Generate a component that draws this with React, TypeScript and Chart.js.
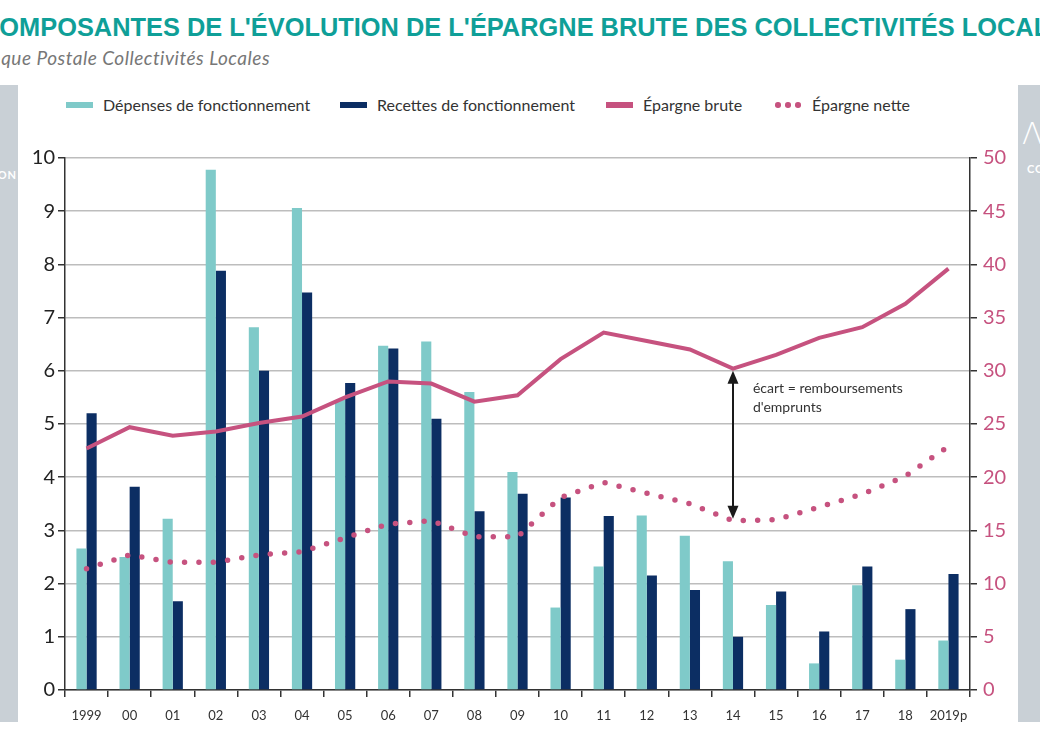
import React, { useEffect, useRef } from "react";
import { Chart, registerables } from "chart.js";

Chart.register(...registerables);

const categories = ["1999", "00", "01", "02", "03", "04", "05", "06", "07", "08", "09", "10", "11", "12", "13", "14", "15", "16", "17", "18", "2019p"];
const depenses = [2.66, 2.5, 3.22, 9.78, 6.82, 9.06, 5.45, 6.47, 6.55, 5.6, 4.1, 1.55, 2.32, 3.28, 2.9, 2.42, 1.6, 0.5, 1.97, 0.57, 0.93];
const recettes = [5.2, 3.82, 1.67, 7.88, 6.0, 7.47, 5.77, 6.42, 5.1, 3.36, 3.69, 3.62, 3.27, 2.15, 1.88, 1.0, 1.85, 1.1, 2.32, 1.52, 2.18];
const epargneBrute = [22.7, 24.7, 23.9, 24.3, 25.1, 25.7, 27.5, 29.0, 28.8, 27.1, 27.7, 31.1, 33.6, 32.8, 32.0, 30.2, 31.5, 33.1, 34.1, 36.3, 39.6];
const epargneNette = [11.4, 12.7, 12.0, 12.0, 12.7, 13.0, 14.3, 15.6, 15.9, 14.4, 14.4, 18.1, 19.5, 18.5, 17.5, 15.9, 16.0, 17.2, 18.4, 20.1, 22.9];

const leftMax = 10;
const leftStep = 1;
const rightMax = 50;
const rightStep = 5;

const annotationIndex = 15;
const annotationLines = ["écart = remboursements", "d'emprunts"];

const TITLE = "COMPOSANTES DE L'ÉVOLUTION DE L'ÉPARGNE BRUTE DES COLLECTIVITÉS LOCALES";
const SUBTITLE = "Source : La Banque Postale Collectivités Locales";

const LIGHT = "#7FCAC9";
const DARK = "#0C2E63";
const PINK = "#C6527F";
const TEAL = "#0F9F98";

const legendItems = [
  { label: "Dépenses de fonctionnement", kind: "bar", color: LIGHT, x: 66 },
  { label: "Recettes de fonctionnement", kind: "bar", color: DARK, x: 340 },
  { label: "Épargne brute", kind: "line", color: PINK, x: 606 },
  { label: "Épargne nette", kind: "dots", color: PINK, x: 775 },
];

const ecartPlugin = {
  id: "ecart",
  afterDatasetsDraw(chart: any) {
    const ctx = chart.ctx;
    const x = chart.scales.x.getPixelForValue(annotationIndex);
    const yTop = chart.scales.y1.getPixelForValue(epargneBrute[annotationIndex]) + 2;
    const yBot = chart.scales.y1.getPixelForValue(epargneNette[annotationIndex]) - 2;
    const head = 13;
    const hw = 5.5;
    ctx.save();
    ctx.strokeStyle = "#1a1a1a";
    ctx.fillStyle = "#1a1a1a";
    ctx.lineWidth = 2;
    ctx.beginPath();
    ctx.moveTo(x, yTop + head - 1);
    ctx.lineTo(x, yBot - head + 1);
    ctx.stroke();
    ctx.beginPath();
    ctx.moveTo(x, yTop);
    ctx.lineTo(x - hw, yTop + head);
    ctx.lineTo(x + hw, yTop + head);
    ctx.closePath();
    ctx.fill();
    ctx.beginPath();
    ctx.moveTo(x, yBot);
    ctx.lineTo(x - hw, yBot - head);
    ctx.lineTo(x + hw, yBot - head);
    ctx.closePath();
    ctx.fill();
    ctx.font = "14px Lato";
    ctx.fillStyle = "#333";
    ctx.textAlign = "left";
    ctx.textBaseline = "middle";
    annotationLines.forEach((t, i) => {
      ctx.fillText(t, x + 20, yTop + 18 + i * 19);
    });
    ctx.restore();
  },
};

function ChartCanvas() {
  const ref = useRef<HTMLCanvasElement>(null);
  useEffect(() => {
    if (!ref.current) return;
    const chart = new Chart(ref.current, {
      type: "bar",
      data: {
        labels: categories,
        datasets: [
          {
            type: "line",
            label: "Épargne brute",
            data: epargneBrute,
            yAxisID: "y1",
            borderColor: PINK,
            borderWidth: 4,
            pointRadius: 0,
            tension: 0,
            order: 0,
          } as any,
          {
            type: "line",
            label: "Épargne nette",
            data: epargneNette,
            yAxisID: "y1",
            borderColor: PINK,
            borderWidth: 5.5,
            borderDash: [0, 14.4],
            borderCapStyle: "round",
            pointRadius: 0,
            tension: 0,
            order: 0,
          } as any,
          {
            label: "Dépenses de fonctionnement",
            data: depenses,
            yAxisID: "y",
            backgroundColor: LIGHT,
            categoryPercentage: 0.47,
            barPercentage: 1.0,
            order: 1,
          },
          {
            label: "Recettes de fonctionnement",
            data: recettes,
            yAxisID: "y",
            backgroundColor: DARK,
            categoryPercentage: 0.47,
            barPercentage: 1.0,
            order: 1,
          },
        ],
      },
      options: {
        animation: false,
        responsive: false,
        maintainAspectRatio: false,
        layout: { padding: { top: 17, left: 0, right: 0, bottom: 0 } },
        plugins: {
          legend: { display: false },
          tooltip: { enabled: false },
          title: { display: false },
        },
        scales: {
          x: {
            offset: true,
            grid: {
              offset: true,
              drawOnChartArea: false,
              drawTicks: true,
              tickLength: 7,
              tickColor: "#333",
              lineWidth: 1.5,
            },
            border: { display: true, color: "#333", width: 1.5 },
            ticks: {
              color: "#333",
              font: { family: "Lato", size: 13 },
              padding: 11,
              maxRotation: 0,
              autoSkip: false,
            },
            afterFit(scale: any) {
              scale.height = 50;
            },
          },
          y: {
            position: "left",
            min: 0,
            max: leftMax,
            ticks: {
              stepSize: leftStep,
              color: "#222",
              font: { family: "Lato", size: 20 },
              padding: 3,
            },
            grid: {
              color: "#BDBDBD",
              lineWidth: 1.5,
              tickLength: 7,
              tickColor: "#333",
            },
            border: { display: true, color: "#333", width: 1.5 },
            afterFit(scale: any) {
              scale.width = 65;
            },
          },
          y1: {
            position: "right",
            min: 0,
            max: rightMax,
            ticks: {
              stepSize: rightStep,
              color: PINK,
              font: { family: "Lato", size: 20 },
              padding: 6,
            },
            grid: {
              drawOnChartArea: false,
              tickLength: 7,
              tickColor: "#333",
              lineWidth: 1.5,
            },
            border: { display: true, color: "#333", width: 1.5 },
            afterFit(scale: any) {
              scale.width = 70;
            },
          },
        },
      },
      plugins: [ecartPlugin],
    });
    return () => chart.destroy();
  }, []);
  return (
    <canvas
      ref={ref}
      width={1040}
      height={600}
      style={{ position: "absolute", left: 0, top: 140, width: 1040, height: 600 }}
    />
  );
}

function LegendSymbol({ kind, color }: { kind: string; color: string }) {
  if (kind === "dots") {
    return (
      <div style={{ position: "absolute", left: 0, top: -3, width: 26, height: 6 }}>
        {[0, 10, 20].map((dx) => (
          <div
            key={dx}
            style={{
              position: "absolute",
              left: dx,
              top: 0,
              width: 5.5,
              height: 5.5,
              borderRadius: "50%",
              background: color,
            }}
          />
        ))}
      </div>
    );
  }
  return (
    <div
      style={{
        position: "absolute",
        left: 0,
        top: -3,
        width: 27,
        height: 6,
        background: color,
      }}
    />
  );
}

export default function App() {
  return (
    <div
      style={{
        position: "absolute",
        left: 0,
        top: 0,
        width: 1040,
        height: 740,
        overflow: "hidden",
        background: "#fff",
        fontFamily: "Lato, sans-serif",
      }}
    >
      <div
        style={{
          position: "absolute",
          left: -19,
          top: 11,
          whiteSpace: "nowrap",
          fontFamily: "'Liberation Sans', Arial, sans-serif",
          fontWeight: 700,
          fontSize: 25.4,
          color: TEAL,
          lineHeight: "32px",
        }}
      >
        {TITLE}
      </div>
      <div
        style={{
          position: "absolute",
          left: -330,
          top: 46,
          width: 600,
          textAlign: "right",
          whiteSpace: "nowrap",
          fontFamily: "Lato, sans-serif",
          fontStyle: "italic",
          fontSize: 19,
          letterSpacing: 0.5,
          color: "#777",
          lineHeight: "24px",
        }}
      >
        {SUBTITLE}
      </div>

      <div style={{ position: "absolute", left: 0, top: 85, width: 18, height: 637, background: "#C9D0D6" }}>
        <div
          style={{
            position: "absolute",
            right: 1,
            top: 83,
            color: "#fff",
            fontSize: 11,
            fontWeight: 700,
            letterSpacing: 1,
            fontFamily: "Lato, sans-serif",
          }}
        >
          ON
        </div>
      </div>
      <div style={{ position: "absolute", left: 1018, top: 85, width: 22, height: 637, background: "#C9D0D6" }}>
        <div
          style={{
            position: "absolute",
            left: 4,
            top: 34,
            color: "#fff",
            fontSize: 30,
            fontWeight: 300,
            lineHeight: "30px",
            fontFamily: "'DejaVu Sans', sans-serif",
          }}
        >
          Λ
        </div>
        <div
          style={{
            position: "absolute",
            left: 9,
            top: 77,
            color: "#fff",
            fontSize: 11,
            fontWeight: 700,
            letterSpacing: 1,
            fontFamily: "Lato, sans-serif",
          }}
        >
          CO
        </div>
      </div>

      {legendItems.map((it) => (
        <div key={it.label} style={{ position: "absolute", left: it.x, top: 105, height: 0 }}>
          <LegendSymbol kind={it.kind} color={it.color} />
          <div
            style={{
              position: "absolute",
              left: 37,
              top: -10,
              whiteSpace: "nowrap",
              fontSize: 16,
              lineHeight: "20px",
              color: "#333",
              fontFamily: "Lato, sans-serif",
            }}
          >
            {it.label}
          </div>
        </div>
      ))}

      <ChartCanvas />
    </div>
  );
}
